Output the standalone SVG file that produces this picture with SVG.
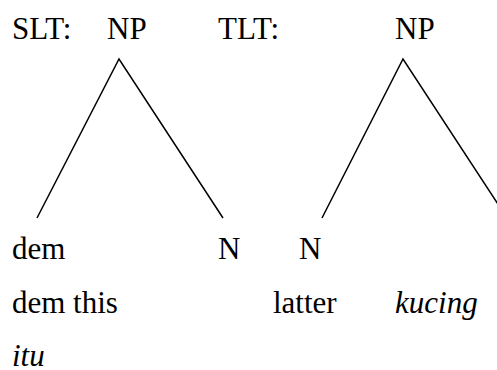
<svg xmlns="http://www.w3.org/2000/svg" width="497" height="370" viewBox="0 0 497 370">
  <style>
    .t { font-size: 31px; fill: #000; }
    .it { font-style: italic; }
    .edge { stroke: #000; stroke-width: 1.5; fill: none; stroke-linecap: butt; }
  </style>
  <rect width="497" height="370" fill="#fff"/>

  <!-- tree edges -->
  <g id="connectors">
    <polyline class="edge" points="37,218 119,59 223,218"/>
    <polyline class="edge" points="322,218 403,59 507,218"/>
  </g>

  <!-- labels, set in a Times-metric serif -->
  <g font-family="Liberation Serif, Times New Roman, Times, serif">
    <g id="slt-label"><text class="t" x="12" y="39">SLT:</text></g>
    <g id="slt-np"><text class="t" x="107" y="39">NP</text></g>
    <g id="tlt-label"><text class="t" x="218" y="39">TLT:</text></g>
    <g id="tlt-np"><text class="t" x="395" y="39">NP</text></g>

    <g id="slt-dem">
      <text class="t" x="12" y="259">dem</text>
      <text class="t" x="12" y="313">dem this</text>
      <text class="t it" x="12" y="366">itu</text>
    </g>
    <g id="slt-n"><text class="t" x="218" y="259">N</text></g>

    <g id="tlt-n">
      <text class="t" x="299" y="259">N</text>
      <text class="t" x="273" y="313">latter</text>
    </g>
    <g id="tlt-gloss"><text class="t it" x="395" y="313">kucing</text></g>
  </g>
</svg>
